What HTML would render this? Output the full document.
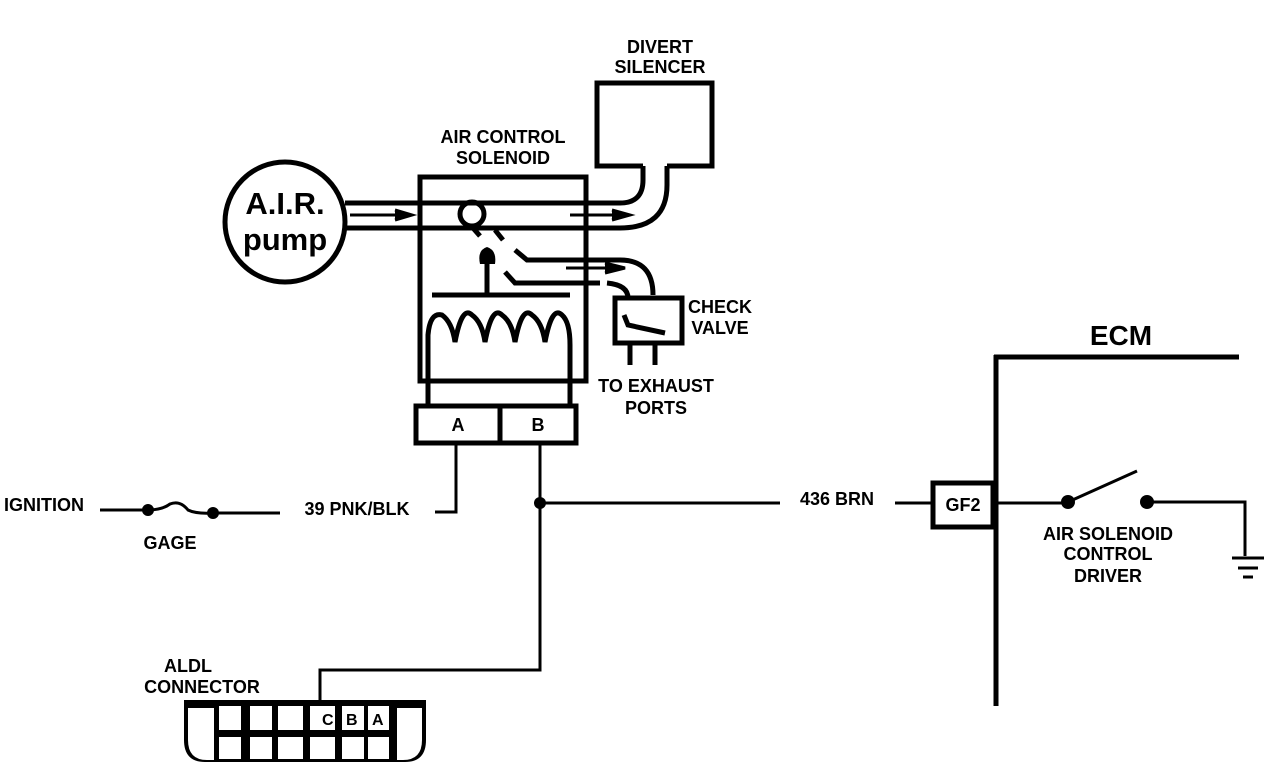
<!DOCTYPE html>
<html><head><style>
body{margin:0;background:#fff}
svg text{font-family:"Liberation Sans",sans-serif;font-weight:bold;fill:#000}
</style></head><body>
<svg width="1280" height="766" viewBox="0 0 1280 766" xmlns="http://www.w3.org/2000/svg">
<g fill="none" stroke="#000" stroke-width="5">
<circle cx="285" cy="222" r="60"/>
<path d="M345 203 H620 Q643 203 643 180 V166"/>
<path d="M345 228 H620 Q667 228 667 185 V166"/>
<path d="M643 166 H597 V83 H712 V166 H667"/>
<rect x="420" y="177" width="166" height="204"/>
<circle cx="472" cy="214" r="12"/>
<path d="M473 228 L480 236" stroke-width="5"/>
<path d="M495 230 L503 240" stroke-width="5"/>
<path d="M515 250 L527 260 H620 Q653 260 653 295"/>
<path d="M505 272 L515 283 H600"/>
<path d="M607 283 Q628 285 628 298"/>
<line x1="487" y1="262" x2="487" y2="294"/>
<line x1="432" y1="295" x2="570" y2="295"/>
<path d="M428 381 V335 Q430 312 442 315 Q452 322 455 342 Q462 305 472 315 Q482 322 485 342 Q492 305 502 315 Q512 322 515 342 Q522 305 532 315 Q542 322 545 342 Q552 305 562 315 Q570 322 570 345 V405"/>
<line x1="428" y1="381" x2="428" y2="405"/>
<rect x="615" y="298" width="67" height="45"/>
<path d="M624 315 L628 325 L665 333" stroke-width="5"/>
<line x1="630" y1="343" x2="630" y2="365"/>
<line x1="655" y1="343" x2="655" y2="365"/>
<rect x="416" y="406" width="160" height="37"/>
<line x1="500" y1="406" x2="500" y2="443"/>
</g>
<g fill="none" stroke="#000" stroke-width="3">
<line x1="350" y1="215" x2="410" y2="215"/><path d="M395 210 L412 215 L395 220" fill="#000"/>
<line x1="570" y1="215" x2="630" y2="215"/><path d="M612 210 L630 215 L612 220" fill="#000"/>
<line x1="566" y1="268" x2="625" y2="268"/><path d="M605 263 L625 268 L605 273" fill="#000"/>
<line x1="100" y1="510" x2="148" y2="510"/>
<path d="M148 510 Q162 510 170 504 Q180 500 188 510 Q196 514 213 513"/>
<line x1="213" y1="513" x2="280" y2="513"/>
<path d="M435 512 H456 V443"/>
<path d="M540 443 V670 H320 V700"/>
<line x1="540" y1="503" x2="780" y2="503"/>
<line x1="895" y1="503" x2="932" y2="503"/>
<line x1="996" y1="503" x2="1068" y2="503"/>
<line x1="1068" y1="502" x2="1137" y2="471"/>
<path d="M1147 502 H1245 V556"/>
<line x1="1232" y1="558" x2="1264" y2="558"/>
<line x1="1238" y1="568" x2="1258" y2="568"/>
<line x1="1243" y1="577" x2="1253" y2="577"/>
</g>
<g stroke="#000" fill="none">
<line x1="996" y1="355" x2="996" y2="706" stroke-width="5"/>
<line x1="994" y1="357" x2="1239" y2="357" stroke-width="5"/>
<rect x="933" y="483" width="60" height="44" stroke-width="5"/>
</g>
<g fill="#000">
<circle cx="148" cy="510" r="6"/><circle cx="213" cy="513" r="6"/>
<circle cx="540" cy="503" r="6"/>
<circle cx="1068" cy="502" r="7"/><circle cx="1147" cy="502" r="7"/>
<path d="M480 264 Q477 250 487 247 Q497 250 495 264 Z"/>
</g>
<path d="M184 700 H426 V740 Q426 762 405 762 H205 Q184 762 184 740 Z" fill="#000"/>
<path d="M188 708 H214 V760 H207 Q188 760 188 740 Z" fill="#fff"/>
<path d="M397 708 H422 V740 Q422 760 403 760 H397 Z" fill="#fff"/>
<g fill="#fff">
<rect x="219" y="706" width="22" height="24"/><rect x="250" y="706" width="22" height="24"/><rect x="278" y="706" width="25" height="24"/>
<rect x="310" y="706" width="25" height="24"/><rect x="342" y="706" width="22" height="24"/><rect x="368" y="706" width="21" height="24"/>
<rect x="219" y="737" width="22" height="22"/><rect x="250" y="737" width="22" height="22"/><rect x="278" y="737" width="25" height="22"/>
<rect x="310" y="737" width="25" height="22"/><rect x="342" y="737" width="22" height="22"/><rect x="368" y="737" width="21" height="22"/>
</g>
<g font-size="16">
<text x="322" y="725">C</text><text x="346" y="725">B</text><text x="372" y="725">A</text>
</g>
<g font-size="18" text-anchor="middle">
<text x="660" y="53">DIVERT</text><text x="660" y="73">SILENCER</text>
<text x="503" y="143">AIR CONTROL</text><text x="503" y="164">SOLENOID</text>
<text x="720" y="313">CHECK</text><text x="720" y="334">VALVE</text>
<text x="656" y="392">TO EXHAUST</text><text x="656" y="414">PORTS</text>
<text x="458" y="431">A</text><text x="538" y="431">B</text>
<text x="44" y="511">IGNITION</text>
<text x="170" y="549">GAGE</text>
<text x="357" y="515">39  PNK/BLK</text>
<text x="837" y="505">436 BRN</text>
<text x="963" y="511">GF2</text>
<text x="1108" y="540">AIR SOLENOID</text><text x="1108" y="560">CONTROL</text><text x="1108" y="582">DRIVER</text>
<text x="188" y="672">ALDL</text><text x="202" y="693">CONNECTOR</text>
</g>
<text x="1121" y="345" font-size="28" text-anchor="middle">ECM</text>
<g font-size="31" text-anchor="middle">
<text x="285" y="214">A.I.R.</text><text x="285" y="250">pump</text>
</g>
</svg>
</body></html>
